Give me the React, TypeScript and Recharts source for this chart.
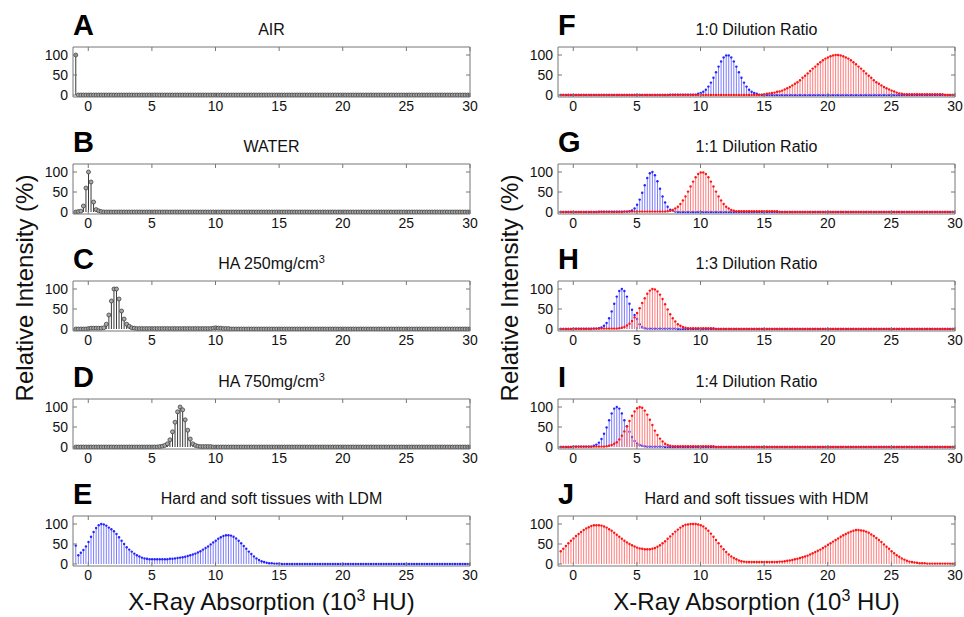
import React from "react";
import { ComposedChart, Bar, XAxis, YAxis } from "recharts";

// histogram bins (10^3 HU), one stem every 0.2
const X_MIN = -1;
const X_STEP = 0.2;
const N_BINS = 156;
const BINS = Array.from({ length: N_BINS }, (_, i) => Math.round((X_MIN + i * X_STEP) * 10) / 10);

const X_TICKS = [0, 5, 10, 15, 20, 25, 30];
const Y_TICKS = [0, 50, 100];
const X_DOMAIN = [-1.2, 30];
const Y_DOMAIN = [-5, 120];

type Seg = { start: number; vals: number[] };

// values, starting at `start`; zero outside
const AIR: Seg = { start: -1, vals: [100] };
const WATER: Seg = { start: -1, vals: [0, 1, 2, 15, 60, 100, 75, 25, 6, 3, 1] };
const HA250: Seg = {
  start: 0,
  vals: [
    1, 2, 2, 2, 2, 2, 3, 12, 35, 70,
    100, 100, 75, 45, 25, 12, 7, 3, 2, 1,
    1, 1, 1, 1, 1, 1, 1, 1, 1, 1,
    1, 1, 1, 1, 1, 1, 1, 1, 1, 1,
    1, 1, 1, 1, 1, 1, 1, 1, 1, 2,
    3, 2, 2, 1, 1, 1,
  ],
};
const HA750: Seg = { start: 5.6, vals: [1, 2, 4, 8, 18, 38, 62, 88, 100, 93, 68, 42, 20, 8, 4, 2, 1, 1, 1, 1, 1] };
const LDM: Seg = {
  start: -1,
  vals: [
    46, 22, 28, 35, 44,
    55, 68, 80, 90, 97,
    100, 99, 96, 91, 87,
    82, 75, 67, 58, 50,
    42, 36, 31, 26, 22,
    19, 16, 14, 13, 12,
    12, 12, 12, 12, 12,
    12, 12, 13, 13, 14,
    15, 16, 17, 18, 20,
    22, 24, 26, 29, 32,
    36, 40, 44, 49, 54,
    58, 63, 67, 70, 72,
    72, 71, 68, 64, 58,
    52, 45, 38, 31, 25,
    19, 14, 10, 7, 5,
    3, 2, 2, 1, 1,
    1,
  ],
};

const F_BLUE: Seg = {
  start: 7.6,
  vals: [
    1, 1,
    1, 1, 1, 1, 1,
    1, 1, 1, 1, 3,
    5, 8, 13, 21, 31,
    43, 57, 71, 84, 94,
    99, 99, 94, 84, 71,
    57, 43, 31, 21, 13,
    8, 5, 3, 1,
  ],
};
const F_RED: Seg = {
  start: 14.8,
  vals: [
    1,
    2, 3, 4, 5, 6,
    8, 9, 11, 14, 17,
    20, 24, 28, 32, 37,
    43, 48, 54, 60, 66,
    71, 77, 82, 87, 91,
    94, 97, 99, 100, 100,
    99, 97, 94, 91, 87,
    82, 77, 71, 66, 60,
    54, 48, 43, 37, 32,
    28, 24, 20, 17, 14,
    11, 9, 6, 4, 3,
    2, 2, 2, 2, 2,
    2, 2, 2, 2, 2,
    2, 2, 2, 2, 2,
    2,
  ],
};
const G_BLUE: Seg = {
  start: 2,
  vals: [
    1, 1, 1, 1, 1,
    1, 1, 1, 1, 1,
    1, 1, 2, 4, 9,
    18, 31, 48, 67, 85,
    97, 100, 92, 77, 58,
    39, 24, 13, 6, 3,
    1,
  ],
};
const G_RED: Seg = {
  start: 4,
  vals: [
    1, 1, 1, 1, 1,
    1, 1, 1, 1, 1,
    1, 1, 1, 1, 1,
    1, 1, 2, 3, 5,
    9, 13, 20, 29, 39,
    51, 64, 76, 87, 95,
    99, 99, 95, 87, 76,
    64, 51, 39, 29, 20,
    13, 9, 5, 3, 2,
    2, 2, 2, 2, 2,
    2, 2, 2, 2, 2,
    2, 2, 2, 2, 2,
    2,
  ],
};
const H_BLUE: Seg = {
  start: 0,
  vals: [
    1, 1, 1, 1, 1,
    1, 1, 1, 1, 1,
    2, 4, 8, 15, 27,
    44, 63, 81, 95, 100,
    95, 81, 63, 48, 35,
    25, 12, 5, 2, 1,
    1, 1, 1, 1, 1,
    1, 1, 1, 1, 1,
    1,
  ],
};
const H_RED: Seg = {
  start: 1.6,
  vals: [
    1, 1,
    1, 1, 1, 1, 1,
    1, 1, 1, 2, 3,
    5, 9, 13, 20, 29,
    40, 52, 65, 77, 88,
    96, 100, 99, 94, 86,
    75, 62, 49, 37, 27,
    19, 12, 8, 5, 3,
    2, 2, 2, 2, 2,
    2, 2, 2, 2, 2,
    2,
  ],
};
const I_BLUE: Seg = {
  start: 0,
  vals: [
    1, 1, 1, 1, 1,
    1, 1, 1, 3, 6,
    11, 20, 33, 49, 67,
    84, 96, 100, 96, 84,
    67, 52, 38, 25, 15,
    9, 5, 3, 2, 1,
    1, 1, 1, 1, 1,
    1,
  ],
};
const I_RED: Seg = {
  start: 0,
  vals: [
    1, 1, 1, 1, 1,
    1, 1, 1, 1, 1,
    1, 1, 1, 2, 3,
    5, 8, 12, 19, 28,
    39, 52, 65, 78, 89,
    97, 100, 98, 91, 81,
    68, 55, 41, 30, 21,
    14, 8, 5, 3, 2,
    2, 2, 2, 2, 2,
    2, 2, 2, 2, 2,
    2, 2, 2, 2, 2,
    2,
  ],
};
const HDM: Seg = {
  start: -1,
  vals: [
    32, 38, 45, 52, 58,
    64, 70, 75, 80, 85,
    89, 92, 95, 97, 97,
    97, 96, 94, 91, 87,
    83, 78, 73, 68, 63,
    58, 54, 50, 47, 44,
    41, 39, 38, 37, 37,
    37, 38, 40, 43, 47,
    52, 57, 63, 69, 75,
    81, 86, 91, 95, 98,
    99, 100, 100, 100, 99,
    97, 94, 89, 83, 76,
    68, 60, 52, 44, 37,
    30, 24, 19, 15, 12,
    9, 7, 6, 5, 5,
    5, 5, 5, 5, 5,
    5, 5, 5, 5, 5,
    5, 6, 6, 7, 8,
    9, 10, 12, 13, 15,
    17, 19, 21, 24, 27,
    30, 33, 36, 40, 44,
    48, 52, 56, 60, 64,
    68, 72, 75, 78, 81,
    83, 85, 85, 84, 83,
    81, 78, 74, 70, 65,
    60, 55, 49, 43, 38,
    32, 27, 22, 18, 14,
    11, 8, 6, 5, 4,
    3, 2, 2, 2, 1,
    1, 1, 1, 1, 1,
    1, 1, 1, 1, 1,
    1,
  ],
};

type Kind = "black" | "blue" | "red";
type Panel = {
  letter: string;
  title: string;
  sup?: string;
  col: number;
  row: number;
  series: { seg: Seg; kind: Kind }[];
};

const PANELS: Panel[] = [
  { letter: "A", title: "AIR", col: 0, row: 0, series: [{ seg: AIR, kind: "black" }] },
  { letter: "B", title: "WATER", col: 0, row: 1, series: [{ seg: WATER, kind: "black" }] },
  { letter: "C", title: "HA 250mg/cm", sup: "3", col: 0, row: 2, series: [{ seg: HA250, kind: "black" }] },
  { letter: "D", title: "HA 750mg/cm", sup: "3", col: 0, row: 3, series: [{ seg: HA750, kind: "black" }] },
  { letter: "E", title: "Hard and soft tissues with LDM", col: 0, row: 4, series: [{ seg: LDM, kind: "blue" }] },
  { letter: "F", title: "1:0 Dilution Ratio", col: 1, row: 0, series: [{ seg: F_BLUE, kind: "blue" }, { seg: F_RED, kind: "red" }] },
  { letter: "G", title: "1:1 Dilution Ratio", col: 1, row: 1, series: [{ seg: G_BLUE, kind: "blue" }, { seg: G_RED, kind: "red" }] },
  { letter: "H", title: "1:3 Dilution Ratio", col: 1, row: 2, series: [{ seg: H_BLUE, kind: "blue" }, { seg: H_RED, kind: "red" }] },
  { letter: "I", title: "1:4 Dilution Ratio", col: 1, row: 3, series: [{ seg: I_BLUE, kind: "blue" }, { seg: I_RED, kind: "red" }] },
  { letter: "J", title: "Hard and soft tissues with HDM", col: 1, row: 4, series: [{ seg: HDM, kind: "red" }] },
];

const BOX_LEFT = [73, 558];
const BOX_TOP = [47, 164, 281, 399, 516];
const BOX_W = 397;
const BOX_H = 50;
const Y_AXIS_W = 40;
const RIGHT_PAD = 14;
const FONT = "'Liberation Sans', Arial, sans-serif";
const BOX_COLOR = "#777";

const STYLE: Record<Kind, { stem: string; dot: string }> = {
  black: { stem: "#3a3a3a", dot: "#a8a8a8" },
  blue: { stem: "#7c7cff", dot: "#2424ff" },
  red: { stem: "#ff7c7c", dot: "#ff1414" },
};

const pick = (seg: Seg, x: number) => {
  const i = Math.round((x - seg.start) / X_STEP);
  return i >= 0 && i < seg.vals.length ? seg.vals[i] : 0;
};

const noLabel = () => <g />;

const makeStem = (kind: Kind) => (p: any) => {
  if (p.x == null || isNaN(p.x)) return <g />;
  const cx = p.x + p.width / 2;
  const top = p.y;
  const base = p.y + p.height;
  const s = STYLE[kind];
  return (
    <g>
      <line x1={cx} x2={cx} y1={base} y2={top} stroke={s.stem} strokeWidth={1} />
      {kind === "black" ? (
        <circle cx={cx} cy={top} r={2} fill={s.dot} stroke="#333" strokeWidth={0.7} />
      ) : (
        <circle cx={cx} cy={top} r={1.2} fill={s.dot} />
      )}
    </g>
  );
};

function StemPanel({ panel }: { panel: Panel }) {
  const rows = BINS.map((x) => {
    const r: any = { x };
    panel.series.forEach((s, i) => {
      r["s" + i] = pick(s.seg, x);
    });
    return r;
  });
  const left = BOX_LEFT[panel.col] - Y_AXIS_W;
  const top = BOX_TOP[panel.row] - 1;
  return (
    <div style={{ position: "absolute", left, top }}>
      <ComposedChart
        width={Y_AXIS_W + BOX_W + 1 + RIGHT_PAD}
        height={1 + BOX_H + 25}
        data={rows}
        margin={{ top: 0, right: RIGHT_PAD, bottom: 0, left: 0 }}
        barGap={-1}
      >
        <XAxis
          xAxisId="b"
          dataKey="x"
          type="number"
          domain={X_DOMAIN}
          allowDataOverflow
          ticks={X_TICKS}
          interval={0}
          tickSize={-4}
          tickMargin={8}
          height={25}
          stroke={BOX_COLOR}
          tick={{ fill: "#111", fontSize: 14, fontFamily: FONT }}
        />
        <XAxis
          xAxisId="t"
          orientation="top"
          dataKey="x"
          type="number"
          domain={X_DOMAIN}
          allowDataOverflow
          ticks={X_TICKS}
          interval={0}
          tickSize={-4}
          height={1}
          stroke={BOX_COLOR}
          tick={noLabel}
        />
        <YAxis
          yAxisId="l"
          type="number"
          domain={Y_DOMAIN}
          allowDataOverflow
          ticks={Y_TICKS}
          interval={0}
          tickSize={-4}
          tickMargin={9}
          width={Y_AXIS_W}
          stroke={BOX_COLOR}
          tick={{ fill: "#111", fontSize: 14, fontFamily: FONT }}
        />
        <YAxis
          yAxisId="r"
          orientation="right"
          type="number"
          domain={Y_DOMAIN}
          allowDataOverflow
          ticks={Y_TICKS}
          interval={0}
          tickSize={-4}
          width={1}
          stroke={BOX_COLOR}
          tick={noLabel}
        />
        {panel.series.map((s, i) => (
          <Bar
            key={i}
            xAxisId="b"
            yAxisId="l"
            dataKey={"s" + i}
            barSize={1}
            fill={STYLE[s.kind].stem}
            shape={makeStem(s.kind)}
            isAnimationActive={false}
          />
        ))}
      </ComposedChart>
    </div>
  );
}

export default function App() {
  return (
    <div
      style={{
        position: "absolute",
        left: 0,
        top: 0,
        width: 964,
        height: 617,
        background: "#fff",
        fontFamily: FONT,
      }}
    >
      {PANELS.map((p) => (
        <StemPanel key={p.letter} panel={p} />
      ))}
      <svg
        width={964}
        height={617}
        style={{ position: "absolute", left: 0, top: 0, pointerEvents: "none" }}
        fontFamily={FONT}
      >
        {PANELS.map((p) => (
          <g key={p.letter}>
            <text x={BOX_LEFT[p.col]} y={BOX_TOP[p.row] - 12.5} fontSize={29} fontWeight="bold" fill="#000">
              {p.letter}
            </text>
            <text
              x={BOX_LEFT[p.col] + BOX_W / 2}
              y={BOX_TOP[p.row] - 12}
              fontSize={16}
              textAnchor="middle"
              fill="#111"
            >
              {p.title}
              {p.sup && (
                <tspan dy={-6} fontSize={11}>
                  {p.sup}
                </tspan>
              )}
            </text>
          </g>
        ))}
        {BOX_LEFT.map((bx, c) => (
          <g key={c}>
            <text x={bx + BOX_W / 2} y={610} fontSize={24} textAnchor="middle" fill="#111">
              X-Ray Absorption (10
              <tspan dy={-9} fontSize={16}>
                3
              </tspan>
              <tspan dy={9}> HU)</tspan>
            </text>
            <text
              transform={`translate(${bx - 40}, 288) rotate(-90)`}
              fontSize={24}
              textAnchor="middle"
              fill="#111"
            >
              Relative Intensity (%)
            </text>
          </g>
        ))}
      </svg>
    </div>
  );
}
